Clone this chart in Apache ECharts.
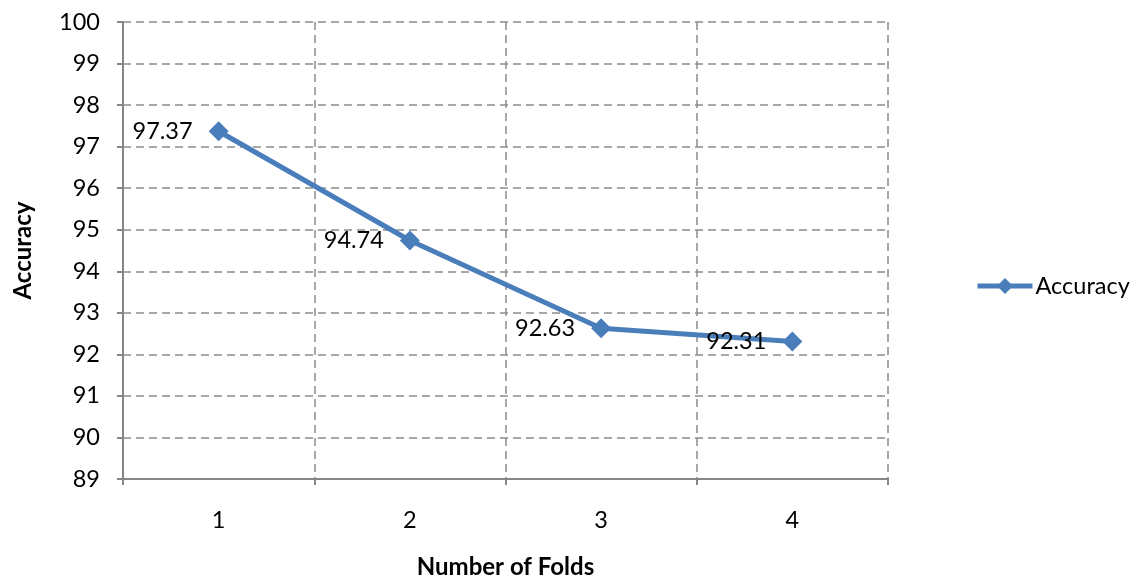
<!DOCTYPE html>
<html>
<head>
<meta charset="utf-8">
<script src="https://cdn.jsdelivr.net/npm/echarts@6/dist/echarts.min.js"></script>
<style>
  html, body { margin: 0; padding: 0; background: #fff; }
  #chart { width: 1145px; height: 584px; }
</style>
</head>
<body>
<div id="chart"></div>
<script>
// Accuracy per number of cross-validation folds
const folds = ['1', '2', '3', '4'];
const accuracy = [97.37, 94.74, 92.63, 92.31];
const yTicks = { min: 89, max: 100, step: 1 };

const FONT = 'Lato';
const BLUE = '#4A7EBB';
const GRID_GRAY = '#8C8C8C';
const AXIS_GRAY = '#868686';

const chart = echarts.init(document.getElementById('chart'), null, { renderer: 'canvas' });

chart.setOption({
  animation: false,
  backgroundColor: '#ffffff',
  textStyle: { fontFamily: FONT, color: '#000' },
  grid: { left: 123, right: 257, top: 22, bottom: 104, containLabel: false },
  legend: {
    data: ['Accuracy'],
    left: 970,
    top: 269,
    itemWidth: 55,
    itemHeight: 20,
    itemGap: 4,
    lineStyle: { width: 5 },
    textStyle: { fontFamily: FONT, fontSize: 23.5, color: '#000', padding: [0, 0, 0, -2] }
  },
  xAxis: {
    type: 'category',
    data: folds,
    boundaryGap: true,
    name: 'Number of Folds',
    nameLocation: 'middle',
    nameGap: 76,
    nameTextStyle: { fontFamily: FONT, fontSize: 24, fontWeight: 'bold', color: '#000' },
    axisLine: { lineStyle: { color: AXIS_GRAY, width: 2 } },
    axisTick: { show: true, inside: false, length: 6, lineStyle: { color: AXIS_GRAY, width: 2 } },
    axisLabel: { margin: 29, fontFamily: FONT, fontSize: 23.5, color: '#000' },
    splitLine: { show: true, lineStyle: { color: GRID_GRAY, width: 1.5, type: [8, 5] } }
  },
  yAxis: {
    type: 'value',
    min: yTicks.min,
    max: yTicks.max,
    interval: yTicks.step,
    name: 'Accuracy',
    nameLocation: 'middle',
    nameGap: 88,
    nameRotate: 90,
    nameTextStyle: { fontFamily: FONT, fontSize: 24, fontWeight: 'bold', color: '#000' },
    axisLine: { show: true, lineStyle: { color: AXIS_GRAY, width: 2 } },
    axisTick: { show: true, inside: false, length: 6, lineStyle: { color: AXIS_GRAY, width: 2 } },
    axisLabel: { margin: 23, fontFamily: FONT, fontSize: 23.5, color: '#000' },
    splitLine: { show: true, lineStyle: { color: GRID_GRAY, width: 1.5, type: [8, 5] } }
  },
  series: [{
    name: 'Accuracy',
    type: 'line',
    data: accuracy,
    symbol: 'diamond',
    symbolSize: 20,
    lineStyle: { color: BLUE, width: 5 },
    itemStyle: { color: BLUE },
    label: {
      show: true,
      position: 'left',
      distance: 16,
      fontFamily: FONT,
      fontSize: 23.5,
      color: '#000',
      formatter: p => p.value.toFixed(2)
    }
  }]
});
</script>
</body>
</html>
